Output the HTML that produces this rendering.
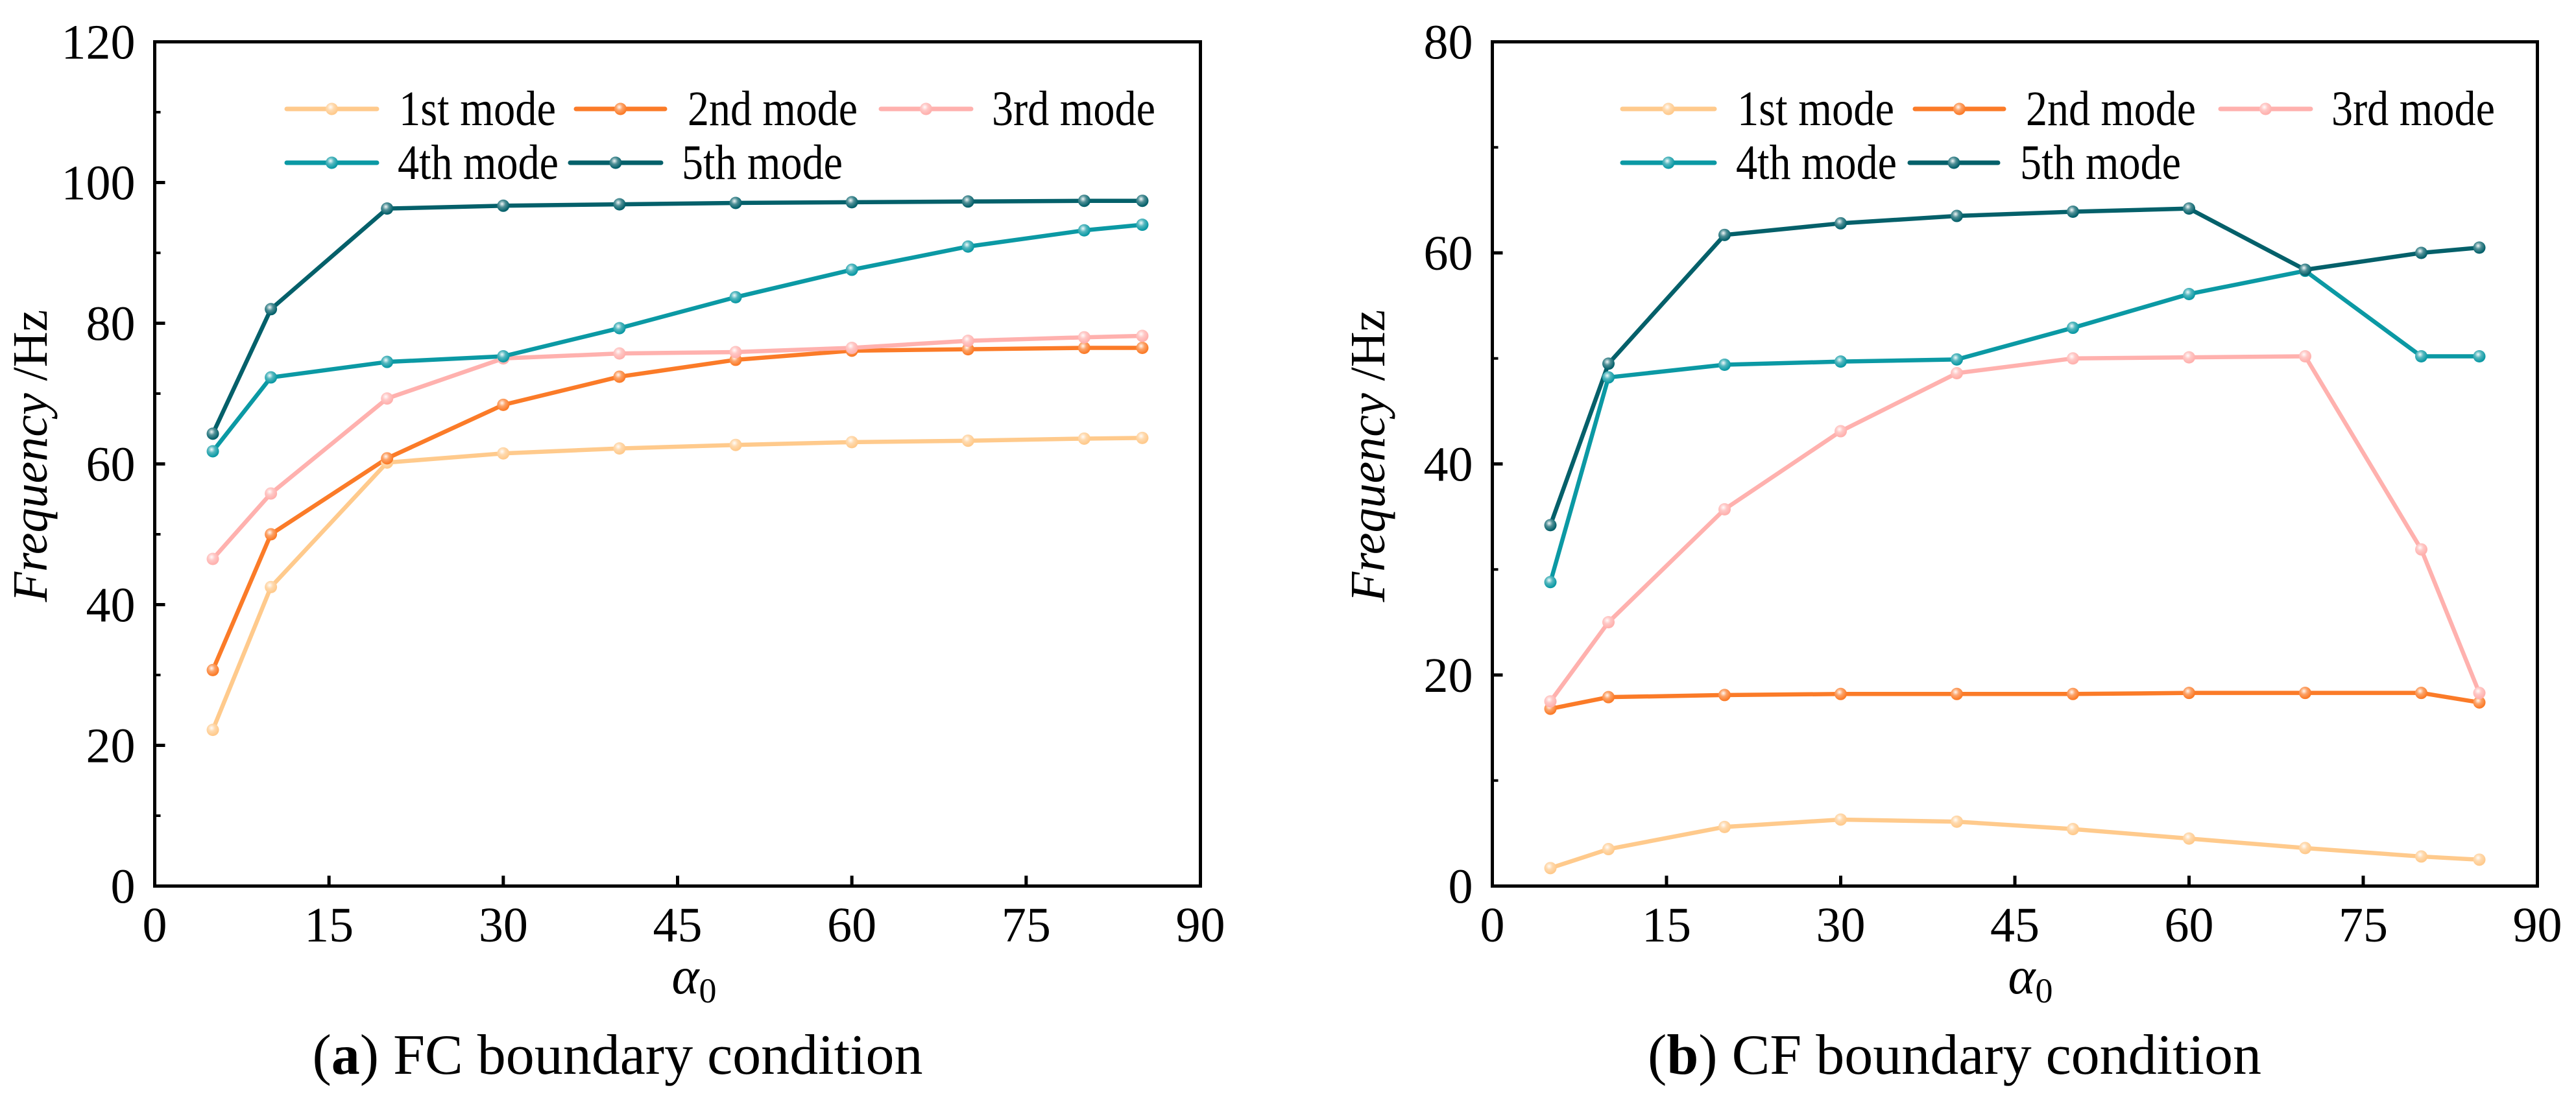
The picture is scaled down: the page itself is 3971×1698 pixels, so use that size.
<!DOCTYPE html>
<html><head><meta charset="utf-8">
<style>
html,body{margin:0;padding:0;background:#fff;}
svg{display:block;}
text{font-family:"Liberation Serif",serif;fill:#000;}
</style></head>
<body>
<svg id="fig" width="3971" height="1698" viewBox="0 0 3971 1698" xmlns="http://www.w3.org/2000/svg">
<defs>
<radialGradient id="mg" cx="0.4" cy="0.35" r="0.6">
<stop offset="0" stop-color="#fff" stop-opacity="0.95"/>
<stop offset="0.45" stop-color="#fff" stop-opacity="0.3"/>
<stop offset="1" stop-color="#fff" stop-opacity="0"/>
</radialGradient>
</defs>
</svg>
<script>
const xCats = [5,10,20,30,40,50,60,70,80,85];
const seriesNames = ["1st mode","2nd mode","3rd mode","4th mode","5th mode"];
const seriesColors = ["#ffca8c","#fb7b28","#ffb1ae","#0b99a4","#04606a"];
const xTicks = [0,15,30,45,60,75,90];
const yTicksA = [0,20,40,60,80,100,120];
const yTicksB = [0,20,40,60,80];
const fc1 = [22.2,42.5,60.2,61.5,62.2,62.7,63.1,63.3,63.6,63.7];
const fc2 = [30.7,50.0,60.8,68.4,72.4,74.8,76.1,76.3,76.5,76.5];
const fc3 = [46.5,55.8,69.3,75.0,75.7,75.9,76.5,77.5,78.0,78.2];
const fc4 = [61.8,72.3,74.5,75.3,79.3,83.7,87.6,90.9,93.2,94.0];
const fc5 = [64.3,82.0,96.3,96.7,96.9,97.1,97.2,97.3,97.4,97.4];
const cf1 = [1.7,3.5,5.6,6.3,6.1,5.4,4.5,3.6,2.8,2.5];
const cf2 = [16.8,17.9,18.1,18.2,18.2,18.2,18.3,18.3,18.3,17.4];
const cf3 = [17.5,25.0,35.7,43.1,48.6,50.0,50.1,50.2,31.9,18.3];
const cf4 = [28.8,48.2,49.4,49.7,49.9,52.9,56.1,58.3,50.2,50.2];
const cf5 = [34.2,49.5,61.7,62.8,63.5,63.9,64.2,58.4,60.0,60.5];
const legendWidths = [242,262,252,248,248];

const NS="http://www.w3.org/2000/svg";
const svg=document.getElementById('fig');
function mk(tag,attrs,parent){const e=document.createElementNS(NS,tag);for(const k in attrs)e.setAttribute(k,attrs[k]);(parent||svg).appendChild(e);return e;}

function panel(cfg){
  const g=mk('g',{});
  
  
  const L=cfg.left,R=cfg.right,T=64.5,B=1366.5;
  const sx=v=>L+(v-0)/90*(R-L);
  const sy=v=>B-(v/cfg.ymax)*(B-T);
  cfg.series.forEach((arr,si)=>{
    const pts=arr.map((v,i)=>sx(xCats[i])+','+sy(v)).join(' ');
    const pl=mk('polyline',{points:pts,fill:'none',stroke:seriesColors[si],'stroke-width':6.5,'stroke-linejoin':'round'},g);
    
    
  });
  cfg.series.forEach((arr,si)=>{
    arr.forEach((v,i)=>{
      const c=mk('circle',{cx:sx(xCats[i]),cy:sy(v),r:9.5,fill:seriesColors[si]},g);
      
      
      mk('circle',{cx:sx(xCats[i]),cy:sy(v),r:9.5,fill:'url(#mg)'},g);
    });
  });
  const fr=mk('rect',{x:L,y:T,width:R-L,height:B-T,fill:'none',stroke:'#000','stroke-width':5},g);
  
  
  xTicks.forEach(t=>{
    mk('line',{x1:sx(t),x2:sx(t),y1:B,y2:B-16,stroke:'#000','stroke-width':5},g);
    const tx=mk('text',{x:sx(t),y:1452,'text-anchor':'middle','font-size':76},g);
    tx.textContent=t;
    
    
  });
  cfg.yTicks.forEach((t,i)=>{
    mk('line',{x1:L,x2:L+16,y1:sy(t),y2:sy(t),stroke:'#000','stroke-width':5},g);
    if(i<cfg.yTicks.length-1){const m=t+10;mk('line',{x1:L,x2:L+9,y1:sy(m),y2:sy(m),stroke:'#000','stroke-width':4},g);}
    const ty=mk('text',{x:L-30,y:sy(t)+26,'text-anchor':'end','font-size':76},g);
    ty.textContent=t;
    
    
  });
  const yl=mk('text',{x:0,y:0,'text-anchor':'middle','font-size':76,transform:`translate(${cfg.ylx},703) rotate(-90)`},g);
  yl.innerHTML='<tspan font-style="italic">Frequency</tspan> /Hz';
  
  
  const xl=mk('text',{x:cfg.xlx,y:1532,'text-anchor':'middle','font-size':80},g);
  xl.innerHTML='<tspan font-style="italic">α</tspan><tspan font-size="54" dy="14">0</tspan>';
  
  
  const cap=mk('text',{x:cfg.capx,y:1656,'text-anchor':'middle','font-size':88},g);
  cap.innerHTML='(<tspan font-weight="bold">'+cfg.letter+'</tspan>) '+cfg.caption;
  
  
  cfg.legend.forEach((lg,si)=>{
    const y=lg[3];
    const le=mk('g',{},g);
    
    
    mk('line',{x1:lg[0],x2:lg[1],y1:y,y2:y,stroke:seriesColors[si],'stroke-width':7,'stroke-linecap':'round'},le);
    mk('circle',{cx:(lg[0]+lg[1])/2,cy:y,r:9.5,fill:seriesColors[si]},le);
    mk('circle',{cx:(lg[0]+lg[1])/2,cy:y,r:9.5,fill:'url(#mg)'},le);
    const t=mk('text',{x:lg[2],y:y+25,'font-size':76,textLength:legendWidths[si],lengthAdjust:'spacingAndGlyphs'},le);
    t.textContent=seriesNames[si];
  });
}
panel({name:'panel-a-fc',left:238.5,right:1850.5,ymax:120,yTicks:yTicksA,series:[fc1,fc2,fc3,fc4,fc5],
  ylx:72,xlx:1070,capx:952,letter:'a',caption:'FC boundary condition',
  legend:[[442,581,615,168],[888,1025,1060,168],[1358,1497,1529,168],[442,581,613,251],[879,1019,1051,251]]});
panel({name:'panel-b-cf',left:2300.5,right:3911.5,ymax:80,yTicks:yTicksB,series:[cf1,cf2,cf3,cf4,cf5],
  ylx:2134,xlx:3130,capx:3013,letter:'b',caption:'CF boundary condition',
  legend:[[2501,2643,2678,168],[2952,3089,3123,168],[3423,3562,3594,168],[2501,2643,2676,251],[2944,3080,3114,251]]});
</script>
</body></html>
